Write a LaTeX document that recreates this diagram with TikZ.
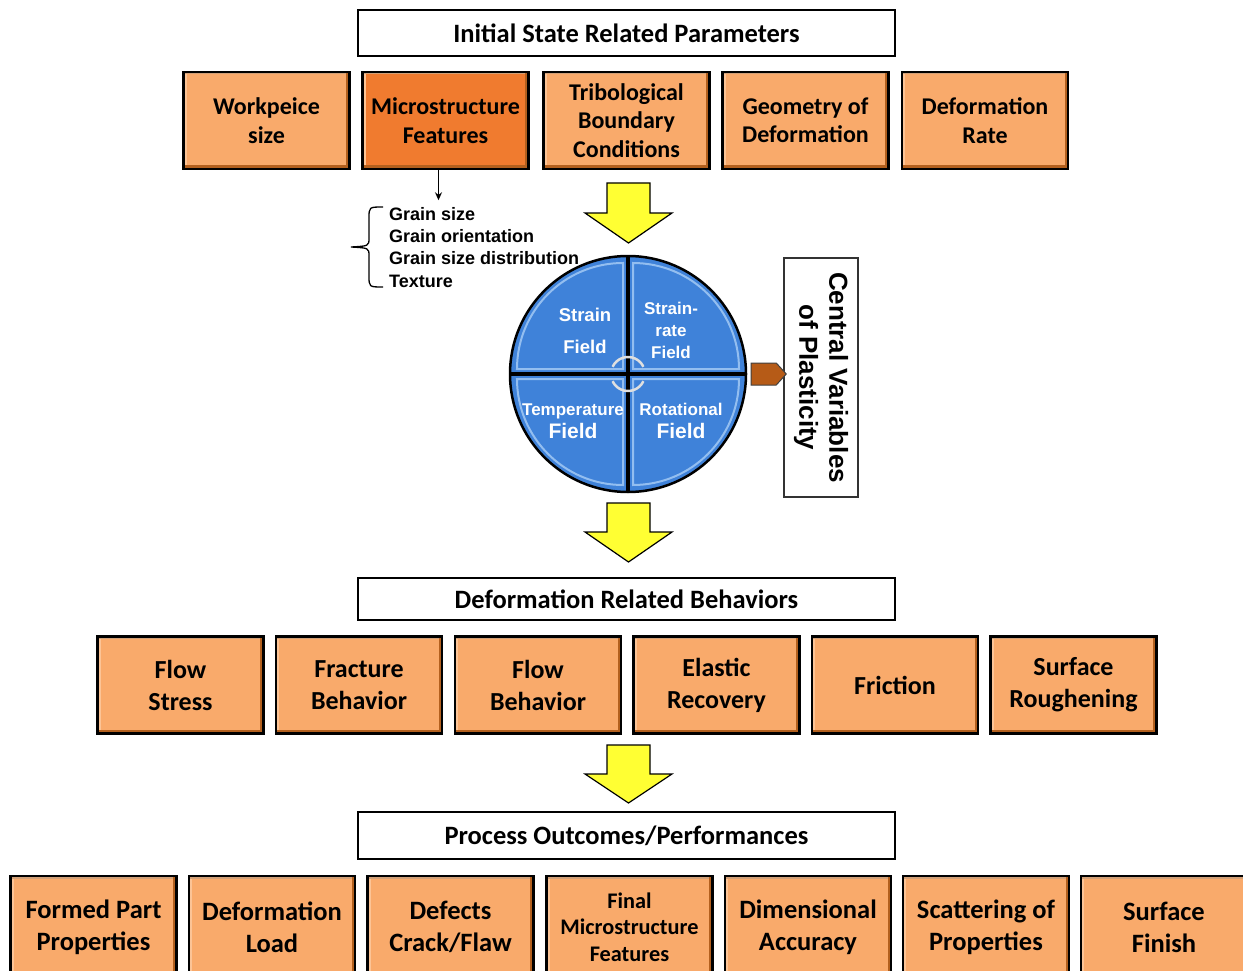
\documentclass[tikz,border=0pt]{standalone}
\usepackage{fontspec}
\setmainfont{Carlito}
\newfontfamily\arialfont{Liberation Sans}
\usetikzlibrary{arrows.meta,calc}
\newcommand\fA{\fontsize{24}{28.5}\selectfont\bfseries}
\newcommand\fB{\fontsize{26}{32}\selectfont\bfseries}
\newcommand\fC{\fontsize{26.5}{32}\selectfont\bfseries}
\newcommand\fCs{\fontsize{22.3}{26.5}\selectfont\bfseries}
\newcommand\fT{\fontsize{26.5}{28}\selectfont\bfseries}
\newcommand\fG{\arialfont\fontsize{18}{22.3}\selectfont\bfseries}
\newcommand\fV{\arialfont\fontsize{26}{30}\selectfont\bfseries}
\definecolor{boxorange}{HTML}{F9AA6B}
\definecolor{boxdark}{HTML}{F07B2F}
\definecolor{boxshadow}{HTML}{B3601E}
\definecolor{boxhigh}{HTML}{FCC496}
\definecolor{arrowyellow}{HTML}{FFFF33}
\definecolor{fieldblue}{HTML}{3F82D9}
\definecolor{fieldlight}{HTML}{93BEF0}
\definecolor{pointerbrown}{HTML}{B65B17}
\tikzset{
  obox/.style={draw=black, line width=2.5pt, fill=boxorange, minimum width=166pt, minimum height=97pt,
    inner sep=0pt, align=center,
    path picture={
      \draw[boxhigh, line width=6pt] (path picture bounding box.south west) -- (path picture bounding box.north west);
      \draw[boxshadow!60, line width=5pt] (path picture bounding box.north west) -- (path picture bounding box.north east);
      \draw[boxshadow, line width=7pt] (path picture bounding box.south west) -- (path picture bounding box.south east) -- (path picture bounding box.north east);
    }},
  rowA/.style={obox, font=\fA},
  rowB/.style={obox, font=\fB},
  rowC/.style={obox, font=\fC, minimum height=102pt},
  titlebox/.style={draw=black, line width=2.5pt, fill=white, minimum width=537pt, inner sep=0pt, font=\fT},
  bigarrow/.style={fill=arrowyellow, draw=black, line width=1.2pt, line join=miter},
  fieldtext/.style={text=white, align=center, inner sep=0pt},
}
\begin{document}
\begin{tikzpicture}[x=1pt,y=-1pt]
\useasboundingbox (0,0) rectangle (1243,971);
\fill[white] (0,0) rectangle (1243,971);

% ---- Titles
\node[titlebox, minimum height=46pt] (t1) at (626.5,33) {Initial State Related Parameters};
\node[titlebox, minimum height=42pt] (t2) at (626.5,599) {Deformation Related Behaviors};
\node[titlebox, minimum height=47pt] (t3) at (626.5,835.5) {Process Outcomes/Performances};

% ---- Row A
\node[rowA] (a1) at (266.5,120.5) {Workpeice\\size};
\node[rowA, fill=boxdark] (a2) at (445.5,120.5) {Microstructure\\Features};
\node[rowA] (a3) at (626.5,120.5) {Tribological\\Boundary\\Conditions};
\node[rowA] (a4) at (805.5,120.5) {Geometry of\\Deformation};
\node[rowA] (a5) at (985,120.5) {Deformation\\Rate};

% ---- Row B
\node[rowB] (b1) at (180.5,685) {Flow\\Stress};
\node[rowB] (b2) at (359,685) {Fracture\\Behavior};
\node[rowB] (b3) at (538,685) {Flow\\Behavior};
\node[rowB] (b4) at (716.5,685) {Elastic\\Recovery};
\node[rowB] (b5) at (895,685) {Friction};
\node[rowB] (b6) at (1073.5,685) {Surface\\Roughening};

% ---- Row C
\node[rowC] (c1) at (93.5,927) {Formed Part\\Properties};
\node[rowC] (c2) at (272,927) {Deformation\\Load};
\node[rowC] (c3) at (450.5,927) {Defects\\Crack/Flaw};
\node[rowC, font=\fCs] (c4) at (629.5,927) {Final\\Microstructure\\Features};
\node[rowC] (c5) at (808,927) {Dimensional\\Accuracy};
\node[rowC] (c6) at (986,927) {Scattering of\\Properties};
\node[rowC] (c7) at (1164,927) {Surface\\Finish};

% ---- Microstructure detail
\draw[-{Stealth[length=8pt,width=7pt]}, line width=1.3pt] ([xshift=-7pt]a2.south) -- ++(0,30);
\node[anchor=north west, align=left, inner sep=0pt, font=\fG] (grain) at (389,207)
  {Grain size\\Grain orientation\\Grain size distribution\\Texture};
\draw[line width=1.3pt] (383,207) .. controls (369,207) .. (369,218) -- (369,238)
  .. controls (369,246) .. (351,247) .. controls (369,248) .. (369,256) -- (369,276)
  .. controls (369,287) .. (383,287);

% ---- Yellow block arrows
\foreach \ya/\yb/\yc in {183/213/243, 503/532/562, 745/774/803}{
  \draw[bigarrow] (607,\ya) -- (650,\ya) -- (650,\yb) -- (672,\yb) -- (628.5,\yc)
     -- (585,\yb) -- (607,\yb) -- cycle;
}

% ---- Field circle
\node[circle, minimum size=236pt, inner sep=0pt] (field) at (628,374) {};
\fill[fieldblue] (field.center) circle (118);
\foreach \sx/\sy/\a in {-1/-1/180, 1/-1/270, 1/1/0, -1/1/90}{
  \draw[fieldlight, line width=2pt, fill=fieldblue]
    ($(field.center)+(\sx*5,\sy*5)$) -- ++(\a:106) arc[start angle=\a, end angle=\a+90, radius=106] -- cycle;
}
\draw[line width=3.5pt] (field.west) -- (field.east);
\draw[line width=3.5pt] (field.north) -- (field.south);
\draw[line width=2.5pt] (field.center) circle (118);
\draw[white!75!gray, line width=2.5pt] ($(field.center)+(205:17)$) arc[start angle=205, end angle=335, radius=17];
\draw[white!75!gray, line width=2.5pt] ($(field.center)+(25:17)$) arc[start angle=25, end angle=155, radius=17];

\node[fieldtext, font=\arialfont\fontsize{18.5}{32}\selectfont\bfseries] (sf) at (585,331) {Strain\\Field};
\node[fieldtext, font=\arialfont\fontsize{17}{22}\selectfont\bfseries] (srf) at (671,330) {Strain-\\rate\\Field};
\node[fieldtext, font=\arialfont\fontsize{17}{23}\selectfont\bfseries] (tf) at (573,421) {Temperature\\{\fontsize{21}{23}\selectfont Field}};
\node[fieldtext, font=\arialfont\fontsize{17}{23}\selectfont\bfseries] (rf) at (681,421) {Rotational\\{\fontsize{21}{23}\selectfont Field}};

% ---- Central variables
\node[draw=black!80, line width=1.5pt, fill=white, minimum width=239pt, minimum height=74pt,
  rotate=-90, align=center, inner sep=0pt, font=\fV] (cv) at (821,377.5)
  {Central Variables\\of Plasticity};
\draw[fill=pointerbrown, draw=black!75, line width=1pt]
  ($(field.east)+(5,-11)$) -- ($(cv.south |- field.east)+(-7,-11)$) -- ($(cv.south |- field.east)+(3,0)$)
  -- ($(cv.south |- field.east)+(-7,11)$) -- ($(field.east)+(5,11)$) -- cycle;
\end{tikzpicture}
\end{document}
